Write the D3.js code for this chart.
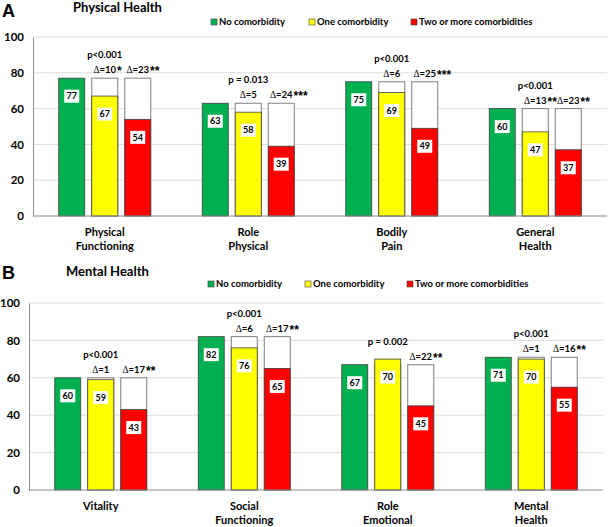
<!DOCTYPE html>
<html>
<head>
<meta charset="utf-8">
<script src="https://cdn.jsdelivr.net/npm/d3@7"></script>
<style>
  body { margin: 0; background: #fff; }
  svg { display: block; font-family: Lato, "Open Sans", sans-serif; font-weight: bold; }
</style>
</head>
<body>
<div id="chart"></div>
<script>
// series names / legend
const seriesKeys = ["none", "one", "two"];
const seriesNames = ["No comorbidity", "One comorbidity", "Two or more comorbidities"];
const seriesColors = ["#00b050", "#ffff00", "#ff0000"];

// panel A - physical health
const physCategories = [["Physical", "Functioning"], ["Role", "Physical"], ["Bodily", "Pain"], ["General", "Health"]];
const physNone = [77, 63, 75, 60];
const physOne = [67, 58, 69, 47];
const physTwo = [54, 39, 49, 37];
const physP = ["p<0.001", "p = 0.013", "p<0.001", "p<0.001"];
const physDeltaOne = [10, 5, 6, 13];
const physStarsOne = ["*", "", "", "**"];
const physDeltaTwo = [23, 24, 25, 23];
const physStarsTwo = ["**", "***", "***", "**"];

// panel B - mental health
const mentCategories = [["Vitality"], ["Social", "Functioning"], ["Role", "Emotional"], ["Mental", "Health"]];
const mentNone = [60, 82, 67, 71];
const mentOne = [59, 76, 70, 70];
const mentTwo = [43, 65, 45, 55];
const mentP = ["p<0.001", "p<0.001", "p = 0.002", "p<0.001"];
const mentDeltaOne = [1, 6, null, 1];
const mentStarsOne = ["", "", "", ""];
const mentDeltaTwo = [17, 17, 22, 16];
const mentStarsTwo = ["**", "**", "**", "**"];

const yTicks = [0, 20, 40, 60, 80, 100];

const width = 609;
const height = 527;

const svg = d3.select("#chart").append("svg")
  .attr("width", width)
  .attr("height", height);

function drawPanel(cfg) {
  const g = svg.append("g");

  const y = d3.scaleLinear().domain([0, 100]).range([cfg.y0, cfg.y100]);
  const x = d3.scaleBand().domain(d3.range(cfg.cats.length)).range([cfg.xLeft, cfg.xRight]);
  const sub = d3.scaleBand().domain(seriesKeys).range([-46, 46]).paddingInner(7 / 33);

  // letter + title
  g.append("text").attr("x", 2).attr("y", cfg.letterY)
    .style("font-family", "Arial, 'Liberation Sans', sans-serif")
    .style("font-size", "18px").text(cfg.letter);
  g.append("text").attr("x", cfg.titleX).attr("y", cfg.titleY)
    .style("font-size", "13px").text(cfg.title);

  // legend
  const leg = g.selectAll("g.leg").data(seriesNames).enter().append("g")
    .attr("transform", (d, i) => `translate(${cfg.legX[i]},${cfg.legY})`);
  leg.append("rect").attr("x", 0).attr("y", -6).attr("width", 6).attr("height", 6)
    .attr("fill", (d, i) => seriesColors[i]).attr("stroke", "#404040").attr("stroke-width", 0.6);
  leg.append("text").attr("x", 8).attr("y", 0).style("font-size", "9.5px").text((d) => d);

  // grid
  g.selectAll("line.grid").data(yTicks.filter((t) => t > 0)).enter().append("line")
    .attr("x1", cfg.xLeft).attr("x2", cfg.xRight)
    .attr("y1", (d) => y(d)).attr("y2", (d) => y(d))
    .attr("stroke", "#dcdcdc").attr("stroke-width", 1);

  // y axis
  const yAxis = g.append("g").attr("transform", `translate(${cfg.xLeft},0)`)
    .call(d3.axisLeft(y).tickValues(yTicks).tickSize(0).tickPadding(9));
  yAxis.select(".domain").attr("stroke", "#8c8c8c");
  yAxis.selectAll("text").style("font-size", "11.5px").style("font-family", "Lato, sans-serif")
    .attr("fill", "#000");

  const rows = cfg.cats.map((c, i) => ({
    i: i,
    none: cfg.none[i], one: cfg.one[i], two: cfg.two[i],
    p: cfg.p[i],
    d1: cfg.d1[i], s1: cfg.s1[i], d2: cfg.d2[i], s2: cfg.s2[i]
  }));

  const grp = g.selectAll("g.grp").data(rows).enter().append("g")
    .attr("transform", (d) => `translate(${x(d.i) + x.bandwidth() / 2},0)`);

  // white reference boxes behind the comorbidity bars
  grp.each(function (d) {
    const sel = d3.select(this);
    ["one", "two"].forEach((k) => {
      sel.append("rect")
        .attr("x", sub(k)).attr("width", sub.bandwidth())
        .attr("y", y(d.none)).attr("height", y(0) - y(d.none))
        .attr("fill", "#fff").attr("stroke", "#7f7f7f").attr("stroke-width", 1);
    });
    seriesKeys.forEach((k, j) => {
      sel.append("rect")
        .attr("x", sub(k)).attr("width", sub.bandwidth())
        .attr("y", y(d[k])).attr("height", y(0) - y(d[k]))
        .attr("fill", seriesColors[j]).attr("stroke", "#404040").attr("stroke-width", 0.8);
      const cx = sub(k) + sub.bandwidth() / 2;
      const cy = y(d[k]) + 18;
      sel.append("rect").attr("x", cx - 7.5).attr("y", cy - 6.5).attr("width", 15).attr("height", 13)
        .attr("fill", "#fff");
      sel.append("text").attr("x", cx).attr("y", cy + 3.2).attr("text-anchor", "middle")
        .style("font-size", "9px").text(d[k]);
    });

    // delta labels
    const refTop = y(d.none);
    [["one", d.d1, d.s1], ["two", d.d2, d.s2]].forEach(([k, val, stars]) => {
      if (val === null) return;
      const cx = sub(k) + sub.bandwidth() / 2;
      const t = sel.append("text").attr("y", refTop - 5).style("font-size", "9.5px");
      t.append("tspan").style("font-family", "'Liberation Serif', serif").style("font-weight", "normal").text("Δ");
      t.append("tspan").text("=" + val);
      const w = t.node().getComputedTextLength();
      t.attr("x", cx - w / 2);
      if (stars) {
        sel.append("text").attr("x", cx + w / 2 + 1).attr("y", refTop - 3)
          .style("font-family", "'Liberation Sans', Arial, sans-serif")
          .style("font-size", "12px").text(stars);
      }
    });

    sel.append("text").attr("x", 0).attr("y", refTop - 20).attr("text-anchor", "middle")
      .style("font-size", "9.5px").text(d.p);
  });

  // baseline
  g.append("line").attr("x1", cfg.xLeft).attr("x2", cfg.xRight)
    .attr("y1", y(0)).attr("y2", y(0)).attr("stroke", "#8c8c8c").attr("stroke-width", 1.2);

  // category labels
  grp.each(function (d) {
    d3.select(this).selectAll("text.cat").data(cfg.cats[d.i]).enter().append("text")
      .attr("class", "cat")
      .attr("x", 0).attr("y", (t, j) => y(0) + 20 + j * 14)
      .attr("text-anchor", "middle").style("font-size", "11px").text((t) => t);
  });
}

drawPanel({
  letter: "A", letterY: 17, title: "Physical Health", titleX: 73, titleY: 12,
  legX: [211, 309, 411], legY: 25,
  y0: 216, y100: 37, xLeft: 33, xRight: 607,
  cats: physCategories, none: physNone, one: physOne, two: physTwo,
  p: physP, d1: physDeltaOne, s1: physStarsOne, d2: physDeltaTwo, s2: physStarsTwo
});

drawPanel({
  letter: "B", letterY: 279, title: "Mental Health", titleX: 66, titleY: 276,
  legX: [208, 305, 407], legY: 287,
  y0: 490, y100: 303, xLeft: 29, xRight: 603,
  cats: mentCategories, none: mentNone, one: mentOne, two: mentTwo,
  p: mentP, d1: mentDeltaOne, s1: mentStarsOne, d2: mentDeltaTwo, s2: mentStarsTwo
});
</script>
</body>
</html>
